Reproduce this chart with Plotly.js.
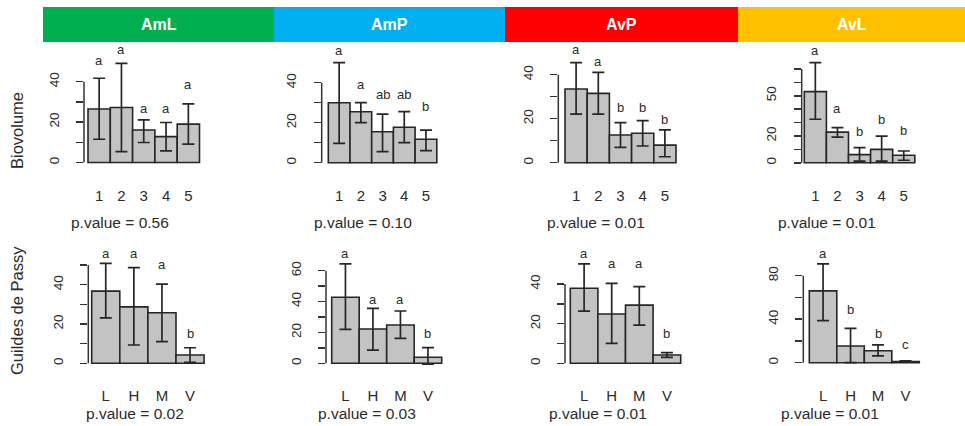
<!DOCTYPE html>
<html>
<head>
<meta charset="utf-8">
<script src="https://cdn.plot.ly/plotly-3.0.1.min.js"></script>
<style>html,body{margin:0;padding:0;background:#fff;}#chart{width:965px;height:426px;}</style>
</head>
<body>
<div id="chart"></div>
<script>
// ---------- DATA ----------
const sites = ["AmL", "AmP", "AvP", "AvL"];
const bioGroups = ["1", "2", "3", "4", "5"];
const guildGroups = ["L", "H", "M", "V"];

// Biovolume (mean, upper and lower error limits), per site
const bioMean = [
  [26.5, 27.2, 16.1, 12.8, 19.0],
  [30.0, 25.5, 15.5, 17.7, 11.7],
  [33.5, 31.5, 12.6, 13.4, 8.0],
  [53.1, 22.9, 6.1, 10.0, 5.6]
];
const bioHi = [
  [41.7, 49.1, 21.1, 19.8, 29.0],
  [50.0, 30.0, 24.3, 25.5, 16.3],
  [45.5, 41.1, 18.2, 19.1, 14.9],
  [74.7, 26.2, 11.3, 19.9, 8.8]
];
const bioLo = [
  [11.5, 5.4, 9.9, 5.8, 9.1],
  [9.7, 20.0, 5.5, 10.0, 6.0],
  [22.1, 22.1, 7.0, 7.6, 2.7],
  [32.5, 19.2, 1.3, 1.3, 1.9]
];
const bioLetters = [
  ["a", "a", "a", "a", "a"],
  ["a", "a", "ab", "ab", "b"],
  ["a", "a", "b", "b", "b"],
  ["a", "a", "b", "b", "b"]
];
const bioLetterY = [
  [50.4, 56.0, 26.8, 26.8, 38.4],
  [56.3, 39.3, 34.3, 34.3, 28.0],
  [51.5, 45.9, 25.0, 25.0, 19.7],
  [84.0, 40.3, 23.7, 32.4, 24.2]
];
const bioP = ["p.value = 0.56", "p.value = 0.10", "p.value = 0.01", "p.value = 0.01"];
const bioTicks = [
  [0, 10, 20, 30, 40],
  [0, 10, 20, 30, 40],
  [0, 10, 20, 30, 40],
  [0, 10, 20, 30, 40, 50, 60, 70]
];
const bioTickText = [
  ["0", "", "20", "", "40"],
  ["0", "", "20", "", "40"],
  ["0", "", "20", "", "40"],
  ["0", "", "20", "", "", "50", "", ""]
];

// Guildes de Passy
const guildMean = [
  [36.7, 28.7, 25.7, 4.2],
  [42.8, 22.2, 24.8, 3.9],
  [37.9, 24.9, 29.4, 4.2],
  [66.0, 15.4, 11.0, 1.0]
];
const guildHi = [
  [50.8, 48.7, 40.3, 7.9],
  [64.4, 35.6, 33.9, 10.1],
  [50.2, 40.4, 38.7, 5.4],
  [90.8, 31.6, 16.3, 1.8]
];
const guildLo = [
  [23.1, 9.3, 11.0, 0.5],
  [22.0, 8.6, 16.2, -0.6],
  [26.4, 10.1, 19.3, 3.0],
  [38.6, 0.0, 6.2, 0.4]
];
const guildLetters = [
  ["a", "a", "a", "b"],
  ["a", "a", "a", "b"],
  ["a", "a", "a", "b"],
  ["a", "b", "b", "c"]
];
const guildLetterY = [
  [56.0, 56.0, 50.5, 15.3],
  [71.3, 41.5, 41.5, 19.0],
  [55.6, 50.2, 50.2, 15.2],
  [100.6, 49.1, 27.0, 16.3]
];
const guildP = ["p.value = 0.02", "p.value = 0.03", "p.value = 0.01", "p.value = 0.01"];
const guildTicks = [
  [0, 10, 20, 30, 40, 50],
  [0, 10, 20, 30, 40, 50, 60],
  [0, 10, 20, 30, 40],
  [0, 20, 40, 60, 80]
];
const guildTickText = [
  ["0", "", "20", "", "40", ""],
  ["0", "", "20", "", "40", "", "60"],
  ["0", "", "20", "", "40"],
  ["0", "", "40", "", "80"]
];

// ---------- LAYOUT CONFIG (pixels) ----------
const W = 965, H = 426;
const FONT = "Liberation Sans, Arial, sans-serif";
const TXT = "#2b2b2b";
const headerEdges = [43, 274, 505, 738, 965];
const headerColors = ["#00B050", "#00B0F0", "#FF0000", "#FFC000"];
const headerTop = 7, headerBottom = 42;

// axisX, zeroY, px per unit, first bar left, bar width, top of plot
const bioPx = [
  {ax: 84, zero: 162.5, ppu: 2.02, b0: 88, bw: 22.3, top: 44},
  {ax: 321.7, zero: 162.7, ppu: 2.0, b0: 328.3, bw: 21.7, top: 44},
  {ax: 558.3, zero: 162.7, ppu: 2.2, b0: 565, bw: 22.2, top: 44},
  {ax: 801.7, zero: 162.8, ppu: 1.34, b0: 804.3, bw: 22.1, top: 44}
];
const guildPx = [
  {ax: 88.3, zero: 363.3, ppu: 1.966, b0: 91.7, bw: 28.1, top: 244},
  {ax: 326, zero: 363.3, ppu: 1.543, b0: 331.7, bw: 27.5, top: 244},
  {ax: 565, zero: 363.3, ppu: 1.98, b0: 570.3, bw: 27.6, top: 244},
  {ax: 803.3, zero: 362.7, ppu: 1.0875, b0: 809.3, bw: 27.5, top: 244}
];
const bioPPos = [[120, 222], [363, 222], [596, 222], [827, 222]];
const guildPPos = [[135, 413], [367, 413], [598, 413], [830, 413]];

// ---------- BUILD ----------
const traces = [];
const layout = {
  width: W, height: H,
  margin: {l: 0, r: 0, t: 0, b: 0},
  paper_bgcolor: "#fff", plot_bgcolor: "rgba(0,0,0,0)",
  showlegend: false, bargap: 0,
  font: {family: FONT, color: TXT},
  shapes: [], annotations: []
};

let k = 0;
function addPanel(groups, mean, hi, lo, letters, letterY, ticks, tickText, px) {
  k += 1;
  const sx = k === 1 ? "" : String(k);
  const n = groups.length;
  const xs = groups.map((g, i) => i);
  traces.push({
    type: "bar", x: xs, y: mean, xaxis: "x" + sx, yaxis: "y" + sx,
    marker: {color: "#c3c3c3", line: {color: "#262626", width: 1.6}},
    error_y: {
      type: "data", symmetric: false,
      array: mean.map((m, i) => hi[i] - m),
      arrayminus: mean.map((m, i) => m - lo[i]),
      color: "#262626", thickness: 1.7, width: 6
    },
    hoverinfo: "skip"
  });
  const right = px.b0 + n * px.bw + 3;
  layout["xaxis" + sx] = {
    domain: [px.ax / W, right / W], anchor: "y" + sx,
    range: [-0.5 - (px.b0 - px.ax) / px.bw, n - 0.5 + 3 / px.bw],
    tickmode: "array", tickvals: xs, ticktext: groups, ticks: "",
    showline: false, showgrid: false, zeroline: false,
    tickfont: {size: 15, color: TXT, family: FONT},
    ticklabelstandoff: 19, fixedrange: true
  };
  layout["yaxis" + sx] = {
    domain: [1 - (px.zero + 3) / H, 1 - px.top / H], anchor: "x" + sx,
    range: [-3 / px.ppu, (px.zero - px.top) / px.ppu],
    tickmode: "array", tickvals: ticks, ticktext: tickText,
    ticks: "outside", ticklen: 7, tickwidth: 1.5, tickcolor: "#333",
    tickangle: -90, tickfont: {size: 13.5, color: TXT, family: FONT},
    ticklabelstandoff: 12,
    showline: false, showgrid: false, zeroline: false, fixedrange: true
  };
  layout.shapes.push({
    type: "line", xref: "x" + sx + " domain", yref: "y" + sx,
    x0: 0, x1: 0, y0: ticks[0], y1: ticks[ticks.length - 1],
    line: {color: "#333", width: 1.5}
  });
  letters.forEach((t, i) => {
    layout.annotations.push({
      xref: "x" + sx, yref: "y" + sx, x: i, y: letterY[i], text: t,
      showarrow: false, xanchor: "center", yanchor: "middle",
      font: {size: 13, color: TXT, family: FONT}
    });
  });
}

sites.forEach((s, j) => addPanel(bioGroups, bioMean[j], bioHi[j], bioLo[j], bioLetters[j], bioLetterY[j], bioTicks[j], bioTickText[j], bioPx[j]));
sites.forEach((s, j) => addPanel(guildGroups, guildMean[j], guildHi[j], guildLo[j], guildLetters[j], guildLetterY[j], guildTicks[j], guildTickText[j], guildPx[j]));

// headers
sites.forEach((s, j) => {
  layout.shapes.push({
    type: "rect", xref: "paper", yref: "paper", layer: "below",
    x0: headerEdges[j] / W, x1: headerEdges[j + 1] / W,
    y0: 1 - headerBottom / H, y1: 1 - headerTop / H,
    fillcolor: headerColors[j], line: {width: 0}
  });
  layout.annotations.push({
    xref: "paper", yref: "paper",
    x: (headerEdges[j] + headerEdges[j + 1]) / 2 / W,
    y: 1 - (headerTop + headerBottom) / 2 / H,
    text: "<b>" + s + "</b>", showarrow: false,
    xanchor: "center", yanchor: "middle",
    font: {size: 16, color: "#ffffff", family: FONT}
  });
});

// p-values
function addP(texts, pos) {
  texts.forEach((t, j) => layout.annotations.push({
    xref: "paper", yref: "paper", x: pos[j][0] / W, y: 1 - pos[j][1] / H,
    text: t, showarrow: false, xanchor: "center", yanchor: "middle",
    font: {size: 15.5, color: TXT, family: FONT}
  }));
}
addP(bioP, bioPPos);
addP(guildP, guildPPos);

// row titles
[["Biovolume", 131], ["Guildes de Passy", 311]].forEach(([t, y]) => {
  layout.annotations.push({
    xref: "paper", yref: "paper", x: 17 / W, y: 1 - y / H, text: t,
    showarrow: false, textangle: -90, xanchor: "center", yanchor: "middle",
    font: {size: 16.5, color: TXT, family: FONT}
  });
});

Plotly.newPlot("chart", traces, layout, {staticPlot: true, displayModeBar: false});
</script>
</body>
</html>
